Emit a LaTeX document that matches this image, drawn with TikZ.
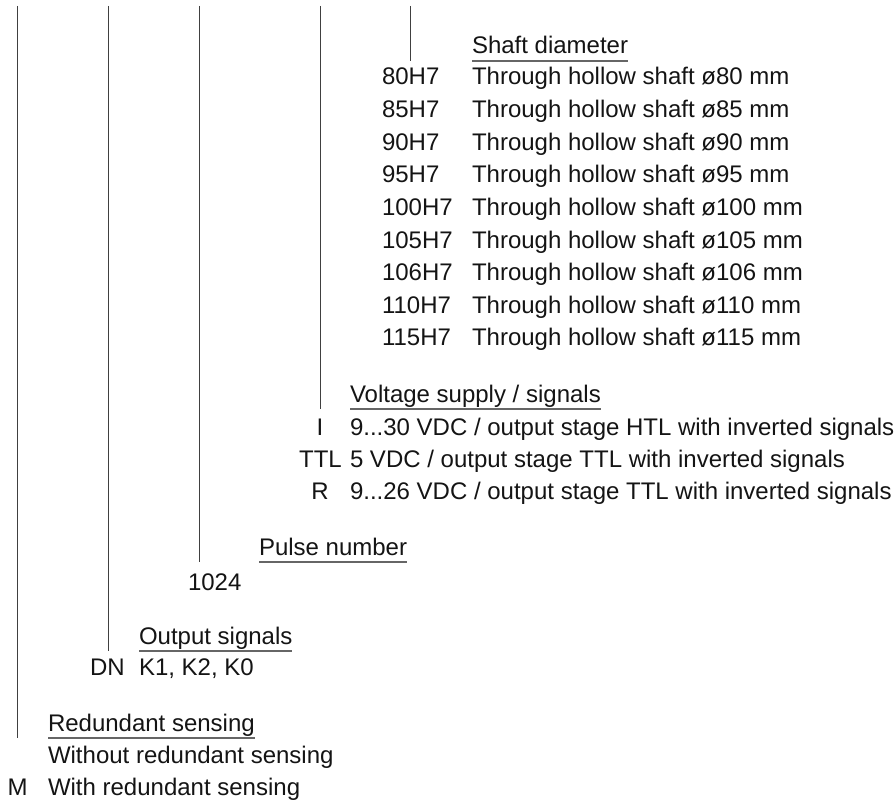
\documentclass[tikz,border=0pt]{standalone}
\usepackage{fontspec}
\setmainfont{Liberation Sans}
\begin{document}
\begin{tikzpicture}[x=1pt,y=-1pt,
  txt/.style={anchor=base west,inner sep=0pt,outer sep=0pt,text=black!92,font=\fontsize{24}{29}\selectfont},
  codeR/.style={txt,anchor=base east},
  codeC/.style={txt,anchor=base},
  vline/.style={draw=black!75,line width=1pt},
  uline/.style={draw=black!60,line width=1.5pt}]
\useasboundingbox (0,0) rectangle (896,802);
% --- Shaft diameter ---
\node[txt] (h5) at (472,54) {Shaft diameter};
\coordinate (u5a) at ([yshift=-7pt]h5.base west);
\coordinate (u5b) at ([yshift=-7pt]h5.base east);
\draw[uline] (u5a) -- (u5b);
\coordinate (t5) at (410,6);
\draw[vline] (t5) -- (t5 |- u5a);
\foreach \c [count=\i from 0] in {80,85,90,95,100,105,106,110,115}{
  \node[txt] (s\i) at (382,85+32.6*\i) {\c H7};
  \node[txt] (sd\i) at (472,85+32.6*\i) {Through hollow shaft ø\c\ mm};
}
% --- Voltage supply ---
\node[txt] (h4) at (350,402) {Voltage supply / signals};
\coordinate (u4a) at ([yshift=-7pt]h4.base west);
\coordinate (u4b) at ([yshift=-7pt]h4.base east);
\draw[uline] (u4a) -- (u4b);
\coordinate (t4) at (320,6);
\draw[vline] (t4) -- (t4 |- u4a);
\node[codeC] (vI) at (320,435) {I};
\node[txt] (vId) at (350,435) {9...30 VDC / output stage HTL with inverted signals};
\node[codeC] (vT) at (320.5,467) {TTL};
\node[txt] (vTd) at (350,467) {5 VDC / output stage TTL with inverted signals};
\node[codeC] (vR) at (320,499) {R};
\node[txt] (vRd) at (350,499) {9...26 VDC / output stage TTL with inverted signals};
% --- Pulse number ---
\node[txt] (h3) at (259,555) {Pulse number};
\coordinate (u3a) at ([yshift=-7pt]h3.base west);
\coordinate (u3b) at ([yshift=-7pt]h3.base east);
\draw[uline] (u3a) -- (u3b);
\coordinate (t3) at (199,6);
\draw[vline] (t3) -- (t3 |- u3a);
\node[txt] (p1) at (188,590) {1024};
% --- Output signals ---
\node[txt] (h2) at (139,644) {Output signals};
\coordinate (u2a) at ([yshift=-7pt]h2.base west);
\coordinate (u2b) at ([yshift=-7pt]h2.base east);
\draw[uline] (u2a) -- (u2b);
\coordinate (t2) at (108,6);
\draw[vline] (t2) -- (t2 |- u2a);
\node[codeC] (oDN) at (107.5,675) {DN};
\node[txt] (oDNd) at (139,675) {K1, K2, K0};
% --- Redundant sensing ---
\node[txt] (h1) at (48,731) {Redundant sensing};
\coordinate (u1a) at ([yshift=-7pt]h1.base west);
\coordinate (u1b) at ([yshift=-7pt]h1.base east);
\draw[uline] (u1a) -- (u1b);
\coordinate (t1) at (17,6);
\draw[vline] (t1) -- (t1 |- u1a);
\node[txt] (r0) at (48,763) {Without redundant sensing};
\node[codeC] (rM) at (17.5,795) {M};
\node[txt] (rMd) at (48,795) {With redundant sensing};
\end{tikzpicture}
\end{document}
